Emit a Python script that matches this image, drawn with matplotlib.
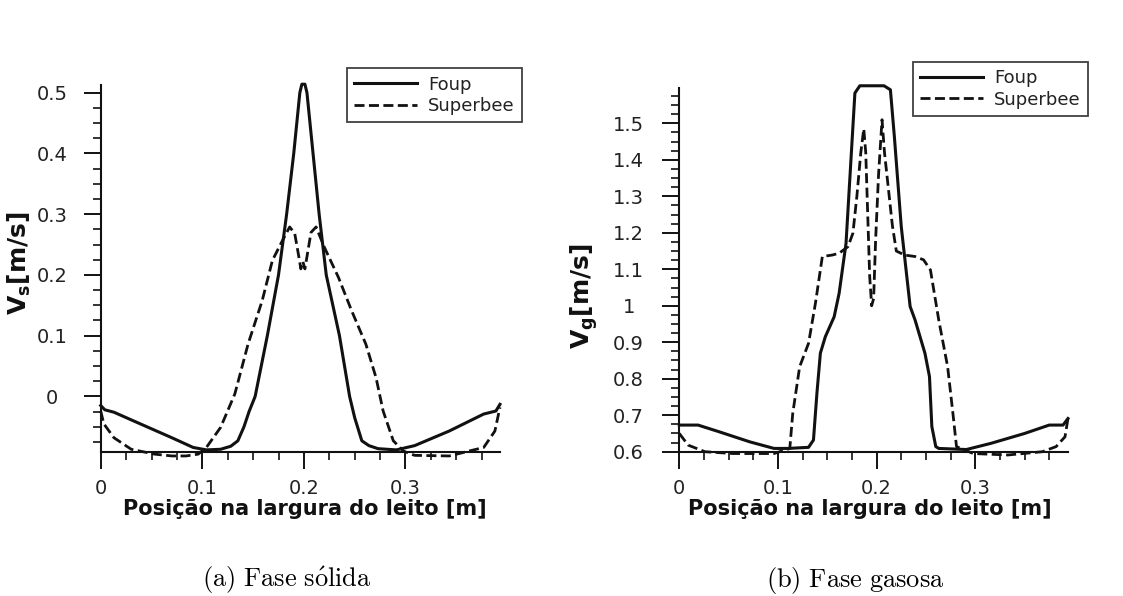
import matplotlib
matplotlib.use("Agg")
import matplotlib.pyplot as plt
from matplotlib.ticker import MultipleLocator

# width position [m]
foup_s_x = [0.000, 0.004, 0.013, 0.036, 0.070, 0.091, 0.104, 0.118, 0.128, 0.135, 0.141, 0.146,
            0.152, 0.164, 0.175, 0.183, 0.190, 0.196, 0.198, 0.201, 0.203, 0.209, 0.215, 0.222,
            0.235, 0.245, 0.250, 0.257, 0.264, 0.273, 0.291, 0.309, 0.343, 0.377, 0.389, 0.393]
foup_s_v = [-0.015, -0.022, -0.026, -0.043, -0.068, -0.084, -0.088, -0.087, -0.082, -0.073, -0.050, -0.025,
            0.000, 0.100, 0.200, 0.300, 0.400, 0.500, 0.514, 0.514, 0.500, 0.400, 0.300, 0.200,
            0.100, 0.000, -0.035, -0.073, -0.081, -0.086, -0.088, -0.081, -0.057, -0.029, -0.024, -0.013]

sbee_s_x = [0.000, 0.003, 0.013, 0.030, 0.053, 0.070, 0.084, 0.096, 0.104, 0.118, 0.132, 0.145,
            0.159, 0.169, 0.179, 0.186, 0.191, 0.195, 0.197, 0.199, 0.201, 0.203, 0.207, 0.212,
            0.220, 0.234, 0.247, 0.261, 0.271, 0.278, 0.288, 0.298, 0.309, 0.343, 0.377, 0.388, 0.393]
sbee_s_v = [-0.024, -0.045, -0.068, -0.087, -0.095, -0.098, -0.098, -0.095, -0.084, -0.051, 0.004, 0.086,
            0.158, 0.224, 0.257, 0.279, 0.268, 0.230, 0.210, 0.222, 0.210, 0.230, 0.270, 0.279,
            0.246, 0.196, 0.141, 0.086, 0.031, -0.024, -0.073, -0.090, -0.097, -0.098, -0.084, -0.057, -0.018]

foup_g_x = [0.000, 0.019, 0.040, 0.0715, 0.096, 0.110, 0.131, 0.136, 0.1395, 0.143, 0.148, 0.157,
            0.162, 0.169, 0.174, 0.178, 0.183, 0.2075, 0.214, 0.218, 0.225, 0.234, 0.239, 0.249,
            0.2536, 0.256, 0.260, 0.263, 0.291, 0.316, 0.350, 0.375, 0.389, 0.394]
foup_g_v = [0.673, 0.673, 0.655, 0.627, 0.609, 0.609, 0.612, 0.632, 0.760, 0.870, 0.915, 0.970,
            1.034, 1.171, 1.400, 1.583, 1.603, 1.603, 1.592, 1.464, 1.217, 0.998, 0.961, 0.870,
            0.806, 0.669, 0.614, 0.609, 0.606, 0.623, 0.650, 0.673, 0.673, 0.691]

sbee_g_x = [0.000, 0.009, 0.026, 0.054, 0.096, 0.112, 0.115, 0.122, 0.131, 0.138, 0.145, 0.155,
            0.162, 0.171, 0.176, 0.180, 0.184, 0.187, 0.189, 0.191, 0.193, 0.195, 0.197, 0.199,
            0.202, 0.2055, 0.208, 0.212, 0.216, 0.220, 0.2285, 0.239, 0.2476, 0.2546, 0.263, 0.272,
            0.277, 0.281, 0.298, 0.333, 0.368, 0.382, 0.391, 0.394]
sbee_g_v = [0.650, 0.618, 0.600, 0.595, 0.595, 0.609, 0.705, 0.833, 0.897, 1.007, 1.135, 1.139,
            1.144, 1.162, 1.199, 1.300, 1.420, 1.485, 1.420, 1.250, 1.080, 1.000, 1.020, 1.180,
            1.360, 1.510, 1.420, 1.320, 1.220, 1.150, 1.139, 1.135, 1.126, 1.098, 0.961, 0.833,
            0.714, 0.614, 0.595, 0.591, 0.600, 0.614, 0.641, 0.691]

x_ticks = [0, 0.1, 0.2, 0.3]
x_labels = ["0", "0.1", "0.2", "0.3"]
vs_ticks = [0, 0.1, 0.2, 0.3, 0.4, 0.5]
vs_labels = ["0", "0.1", "0.2", "0.3", "0.4", "0.5"]
vg_ticks = [0.6, 0.7, 0.8, 0.9, 1.0, 1.1, 1.2, 1.3, 1.4, 1.5]
vg_labels = ["0.6", "0.7", "0.8", "0.9", "1", "1.1", "1.2", "1.3", "1.4", "1.5"]
series = ["Foup", "Superbee"]
captions = [r"$\mathrm{(a)\ Fase\ s\acute{o}lida}$", r"$\mathrm{(b)\ Fase\ gasosa}$"]

INK = "#111111"
dash = (0, (3.6, 1.6))

fig = plt.figure(figsize=(11.23, 5.96), dpi=100)
ax1 = fig.add_axes([0.0897, 0.2421, 0.3555, 0.6153])
ax2 = fig.add_axes([0.6049, 0.2421, 0.3461, 0.6097])


def style_axes(ax, xmax, ylim, yticks, ylabels, ypad):
    ax.set_xlim(0, xmax)
    ax.set_ylim(*ylim)
    for side in ("top", "right"):
        ax.spines[side].set_visible(False)
    for side in ("left", "bottom"):
        ax.spines[side].set_linewidth(1.5)
        ax.spines[side].set_color(INK)
    ax.set_xticks(x_ticks)
    ax.set_xticklabels(x_labels)
    ax.set_yticks(yticks)
    ax.set_yticklabels(ylabels)
    ax.xaxis.set_minor_locator(MultipleLocator(0.025))
    ax.yaxis.set_minor_locator(MultipleLocator(0.025))
    ax.tick_params(which="major", direction="out", length=12, width=1.4, color=INK,
                   labelsize=14, labelcolor="#222222")
    ax.tick_params(which="minor", direction="out", length=6, width=1.2, color=INK)
    ax.tick_params(axis="x", which="major", pad=8)
    ax.tick_params(axis="y", which="major", pad=ypad)
    plt.setp(ax.get_yticklabels(), ha="center")


style_axes(ax1, 0.393, (-0.091, 0.5127), vs_ticks, vs_labels, 23)
style_axes(ax2, 0.394, (0.6, 1.596), vg_ticks, vg_labels, 24.5)

ax1.plot(foup_s_x, foup_s_v, color=INK, lw=2.2, clip_on=False, label=series[0])
ax1.plot(sbee_s_x, sbee_s_v, color=INK, lw=2.0, ls=dash, clip_on=False, label=series[1])
ax2.plot(foup_g_x, foup_g_v, color=INK, lw=2.2, clip_on=False, label=series[0])
ax2.plot(sbee_g_x, sbee_g_v, color=INK, lw=2.0, ls=dash, clip_on=False, label=series[1])

for ax, ylab, ycoords, anchor in [
    (ax1, r"$\mathbf{V_s[m/s]}$", (-0.17, 0.515), (0.309, 0.8854)),
    (ax2, r"$\mathbf{V_g[m/s]}$", (-0.205, 0.427), (0.813, 0.8965)),
]:
    ax.set_xlabel("Posição na largura do leito [m]", fontsize=15, fontweight="bold", color=INK)
    ax.set_ylabel(ylab, fontsize=18, color=INK)
    ax.yaxis.set_label_coords(*ycoords)
    leg = ax.legend(loc="upper left", bbox_to_anchor=anchor, bbox_transform=fig.transFigure,
                    fontsize=13, frameon=True, fancybox=False, borderaxespad=0,
                    handlelength=3.5, handletextpad=0.6, labelspacing=0.2,
                    borderpad=0.4)
    leg.get_frame().set_edgecolor(INK)
    leg.get_frame().set_linewidth(1.3)
    for t in leg.get_texts():
        t.set_color("#222222")

ax1.xaxis.set_label_coords(0.511, -0.156)
ax2.xaxis.set_label_coords(0.49, -0.158)
ax1.xaxis.label.set_va("center")
ax2.xaxis.label.set_va("center")

fig.text(286.7 / 1123, 1 - 580 / 596, captions[0], fontsize=19, ha="center", va="center",
         math_fontfamily="cm")
fig.text(855 / 1123, 1 - 580 / 596, captions[1], fontsize=19, ha="center", va="center",
         math_fontfamily="cm")

fig.savefig("out.png", dpi=100)
